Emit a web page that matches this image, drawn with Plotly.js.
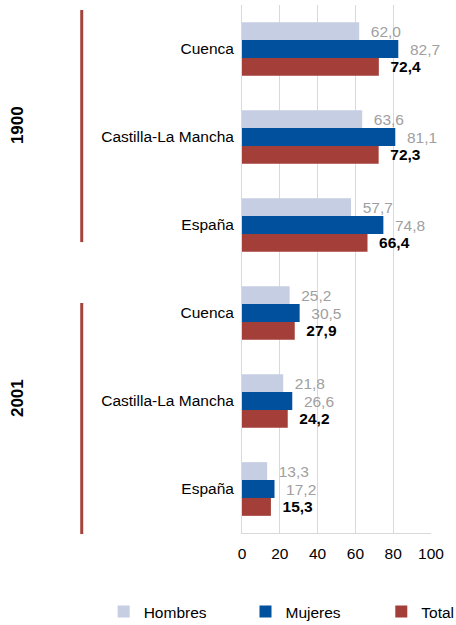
<!DOCTYPE html>
<html>
<head>
<meta charset="utf-8">
<script src="https://cdn.plot.ly/plotly-3.0.1.min.js"></script>
<style>
html,body{margin:0;padding:0;background:#fff;}
#chart{width:456px;height:625px;}
</style>
</head>
<body>
<div id="chart"></div>
<script>
var years = ['1900', '2001'];
var regions = ['Cuenca', 'Castilla-La Mancha', 'España'];
var hombres = [62.0, 63.6, 57.7, 25.2, 21.8, 13.3];
var mujeres = [82.7, 81.1, 74.8, 30.5, 26.6, 17.2];
var total = [72.4, 72.3, 66.4, 27.9, 24.2, 15.3];
var seriesNames = ['Hombres', 'Mujeres', 'Total'];
var xTicks = [0, 20, 40, 60, 80, 100];

var keys = [], labels = [];
years.forEach(function (yr) {
  regions.forEach(function (r) {
    keys.push(r + ' ' + yr);
    labels.push(r);
  });
});

var FONT = 'Liberation Sans, Arial, sans-serif';
var FS = 15.5;
var pad = '\u00a0\u00a0';

function tr(name, vals, color, tfont, legendId) {
  return {
    type: 'bar', orientation: 'h', name: name, legend: legendId,
    x: vals, y: keys,
    marker: {color: color, line: {width: 0}},
    text: vals.map(function (v) { return pad + v.toFixed(1).replace('.', ','); }),
    texttemplate: '%{text}',
    textposition: 'outside',
    cliponaxis: false,
    constraintext: 'none',
    textfont: tfont,
    hoverinfo: 'skip'
  };
}

var data = [
  tr(seriesNames[0], hombres, '#c5cee2', {family: FONT, size: FS, color: '#a0a0a0'}, 'legend'),
  tr(seriesNames[1], mujeres, '#00509e', {family: FONT, size: FS, color: '#a0a0a0'}, 'legend2'),
  tr(seriesNames[2], total, '#a33f38', {family: FONT, size: FS, color: '#000000', weight: 'bold'}, 'legend3')
];

function leg(x) {
  return {
    orientation: 'h', xref: 'paper', yref: 'paper',
    x: x, xanchor: 'left', y: -0.1496, yanchor: 'middle',
    font: {family: FONT, size: FS, color: '#000'},
    bgcolor: 'rgba(0,0,0,0)', borderwidth: 0
  };
}

var lineColor = '#a5433b';
var layout = {
  width: 456, height: 625,
  margin: {l: 241.5, r: 25.3, t: 5, b: 92, autoexpand: false},
  paper_bgcolor: '#ffffff', plot_bgcolor: '#ffffff',
  barmode: 'group', bargap: 0.39, bargroupgap: 0,
  font: {family: FONT, size: FS, color: '#000'},
  showlegend: true,
  hovermode: false,
  xaxis: {
    range: [0, 100], tickvals: xTicks, ticktext: xTicks.map(String),
    showgrid: true, gridcolor: '#d9d9d9', gridwidth: 1,
    zeroline: false, showline: true, linecolor: '#d9d9d9', linewidth: 1,
    ticks: '', ticklabelstandoff: 6,
    tickfont: {family: FONT, size: FS, color: '#000'},
    fixedrange: true
  },
  yaxis: {
    type: 'category', autorange: 'reversed',
    tickvals: keys, ticktext: labels,
    showgrid: false, zeroline: false, showline: true, linecolor: '#d9d9d9', linewidth: 1,
    ticks: '', ticklabelstandoff: 4,
    tickfont: {family: FONT, size: FS, color: '#000'},
    fixedrange: true
  },
  legend: leg(-0.732),
  legend2: leg(0.0185),
  legend3: leg(0.737),
  shapes: [
    {type: 'line', xref: 'paper', yref: 'paper', x0: -0.848, x1: -0.848, y0: 0.9905, y1: 0.551,
     line: {color: lineColor, width: 3}},
    {type: 'line', xref: 'paper', yref: 'paper', x0: -0.848, x1: -0.848, y0: 0.4356, y1: -0.002,
     line: {color: lineColor, width: 3}}
  ],
  annotations: [
    {text: years[0], xref: 'paper', yref: 'paper', x: -1.184, y: 0.773, textangle: -90,
     showarrow: false, xanchor: 'center', yanchor: 'middle',
     font: {family: FONT, size: 17, color: '#000', weight: 'bold'}},
    {text: years[1], xref: 'paper', yref: 'paper', x: -1.184, y: 0.256, textangle: -90,
     showarrow: false, xanchor: 'center', yanchor: 'middle',
     font: {family: FONT, size: 17, color: '#000', weight: 'bold'}}
  ]
};

Plotly.newPlot('chart', data, layout, {displayModeBar: false, staticPlot: true});
</script>
</body>
</html>
